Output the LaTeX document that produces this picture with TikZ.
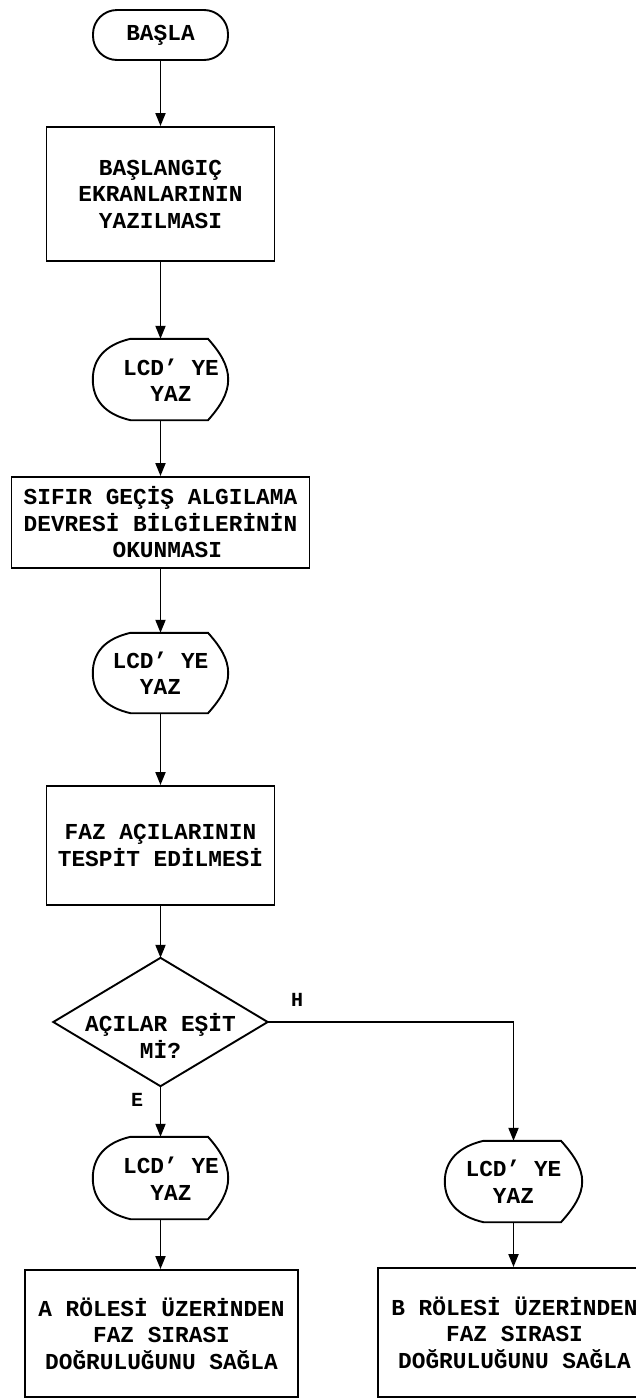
\documentclass[tikz,border=0pt]{standalone}
\usepackage{fontspec}
\setmainfont{Liberation Mono}
\usetikzlibrary{arrows.meta,calc}
\tikzset{
  lw/.style={line width=1.9pt},
  txt/.style={font=\bfseries\fontsize{22.8}{26.5}\selectfont, align=center, inner sep=0pt},
  procbox/.style={txt, draw, lw},
  termbox/.style={txt, draw, lw, rounded corners=24pt},
  holder/.style={inner sep=0pt, draw=none},
  flow/.style={lw, -{Triangle[length=13pt,width=10pt]}},
  lbl/.style={font=\bfseries\fontsize{20}{24}\selectfont, inner sep=0pt},
}
\newcommand\dispout[1]{%
  \draw[lw] ($(#1.north)+(-30,0)$) -- ($(#1.north)+(47.5,0)$)
    .. controls ($(#1.north)+(60,14)$) and ($(#1.east)+(0,-14)$) .. (#1.east)
    .. controls ($(#1.east)+(0,14)$) and ($(#1.south)+(60,-14)$) .. ($(#1.south)+(47.5,0)$)
    -- ($(#1.south)+(-30,0)$)
    .. controls ($(#1.south)+(-56,-6)$) and ($(#1.west)+(0,20)$) .. (#1.west)
    .. controls ($(#1.west)+(0,-20)$) and ($(#1.north)+(-56,6)$) .. ($(#1.north)+(-30,0)$)
    -- cycle;}
\begin{document}
\begin{tikzpicture}[x=1pt,y=-1pt]
\useasboundingbox (0,0) rectangle (636,1398);
\clip (0,0) rectangle (636,1398);

\node[termbox, minimum width=135pt, minimum height=50pt] (start) at (160.5,35) {BAŞLA};
\node[procbox, minimum width=228pt, minimum height=134pt] (b1) at (160.5,194) {BAŞLANGIÇ\\EKRANLARININ\\YAZILMASI};

\node[holder, minimum width=135pt, minimum height=81pt] (d1) at (160.5,379.5) {};
\dispout{d1}
\node[txt] (d1t) at (171,380) {LCD’ YE\\YAZ};

\node[procbox, minimum width=298pt, minimum height=91pt] (b2) at (160.5,522.5) {SIFIR GEÇİŞ ALGILAMA\\DEVRESİ BİLGİLERİNİN\\\ OKUNMASI};

\node[holder, minimum width=135pt, minimum height=80pt] (d2) at (160.5,673) {};
\dispout{d2}
\node[txt] (d2t) at (160.5,673) {LCD’ YE\\YAZ};

\node[procbox, minimum width=228pt, minimum height=119pt] (b3) at (160.5,845.5) {FAZ AÇILARININ\\TESPİT EDİLMESİ};

\node[holder, minimum width=214pt, minimum height=128pt] (dec) at (160.5,1022) {};
\draw[lw] (dec.north) -- (dec.east) -- (dec.south) -- (dec.west) -- cycle;
\node[txt] (dect) at (160.5,1036) {AÇILAR EŞİT\\Mİ?};

\node[holder, minimum width=135pt, minimum height=82pt] (d3) at (160.5,1178) {};
\dispout{d3}
\node[txt] (d3t) at (171,1178.5) {LCD’ YE\\YAZ};

\node[holder, minimum width=137pt, minimum height=81pt] (d4) at (513.5,1181.5) {};
\dispout{d4}
\node[txt] (d4t) at (513.5,1181.5) {LCD’ YE\\YAZ};

\node[procbox, minimum width=273pt, minimum height=127pt] (bA) at (161.5,1333.5) {A RÖLESİ ÜZERİNDEN\\FAZ SIRASI\\DOĞRULUĞUNU SAĞLA};
\node[procbox, minimum width=273pt, minimum height=129pt] (bB) at (514.5,1332.5) {B RÖLESİ ÜZERİNDEN\\FAZ SIRASI\\DOĞRULUĞUNU SAĞLA};

\draw[flow] (start.south) -- (b1.north);
\draw[flow] (b1.south) -- (d1.north);
\draw[flow] (d1.south) -- (b2.north);
\draw[flow] (b2.south) -- (d2.north);
\draw[flow] (d2.south) -- (b3.north);
\draw[flow] (b3.south) -- (dec.north);
\draw[flow] (dec.south) -- (d3.north);
\draw[flow] (dec.east) -| (d4.north);
\draw[flow] (d3.south) -- (d3.south |- bA.north);
\draw[flow] (d4.south) -- (d4.south |- bB.north);

\node[lbl] (hl) at (297,1000) {H};
\node[lbl] (el) at (137,1100) {E};
\end{tikzpicture}
\end{document}
